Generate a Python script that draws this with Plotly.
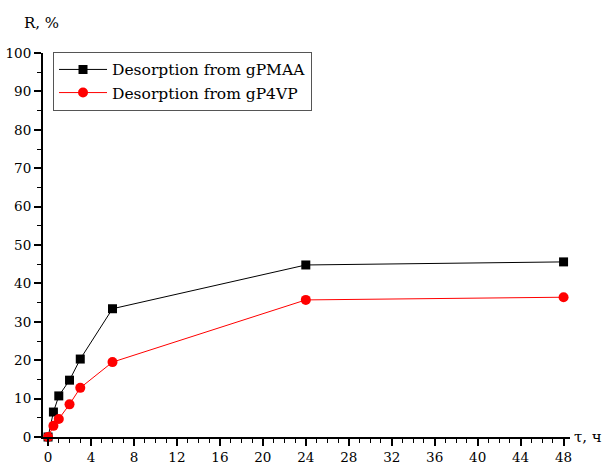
import plotly.graph_objects as go

hours = [0, 0.5, 1, 2, 3, 6, 24, 48]
r_pmaa = [0, 6.5, 10.7, 14.8, 20.3, 33.4, 44.8, 45.6]
r_p4vp = [0, 2.9, 4.7, 8.5, 12.8, 19.5, 35.7, 36.4]
names = ["Desorption from gPMAA", "Desorption from gP4VP"]

FONT = "DejaVu Serif"

fig = go.Figure()
fig.add_trace(go.Scatter(x=hours, y=r_pmaa, mode="lines+markers", name=names[0],
                         line=dict(color="black", width=1),
                         marker=dict(symbol="square", size=9, color="black"),
                         cliponaxis=False))
fig.add_trace(go.Scatter(x=hours, y=r_p4vp, mode="lines+markers", name=names[1],
                         line=dict(color="#ff0000", width=1),
                         marker=dict(symbol="circle", size=10, color="#ff0000"),
                         cliponaxis=False))

fig.update_layout(
    width=607, height=462,
    margin=dict(l=43, r=37, t=53, b=25, autoexpand=False),
    plot_bgcolor="white", paper_bgcolor="white",
    font=dict(family=FONT, size=13, color="black"),
    showlegend=True,
    legend=dict(x=0.019, y=1.003, xanchor="left", yanchor="top",
                bordercolor="#555555", borderwidth=1, bgcolor="white",
                itemwidth=48,
                font=dict(size=15.5, family=FONT), tracegroupgap=0),
    xaxis=dict(range=[-0.47, 48.6], tickmode="array", tickvals=list(range(0, 49, 4)),
               ticks="outside", ticklen=7, tickwidth=1.5, tickcolor="black", automargin=False,
               minor=dict(ticks="outside", ticklen=4, dtick=1, tickcolor="black", tickwidth=1),
               showline=True, linecolor="black", linewidth=2, showgrid=False, zeroline=False,
               tickfont=dict(size=13.5, family=FONT)),
    yaxis=dict(range=[0, 100], tickmode="array", tickvals=list(range(0, 101, 10)),
               ticks="outside", ticklen=7, tickwidth=1.5, tickcolor="black", automargin=False,
               minor=dict(ticks="outside", ticklen=4, dtick=5, tickcolor="black", tickwidth=1),
               showline=True, linecolor="black", linewidth=2, showgrid=False, zeroline=False,
               tickfont=dict(size=13.5, family=FONT)),
    annotations=[
        dict(text="R, %", xref="paper", yref="paper", x=-0.04, y=1.0, yshift=30,
             xanchor="left", yanchor="middle", showarrow=False, font=dict(size=15, family=FONT)),
        dict(text="τ, ч", xref="paper", yref="paper", x=1.0, y=0, xshift=2,
             xanchor="left", yanchor="middle", showarrow=False, font=dict(size=15, family=FONT)),
    ],
)

fig.write_html("out.html")
